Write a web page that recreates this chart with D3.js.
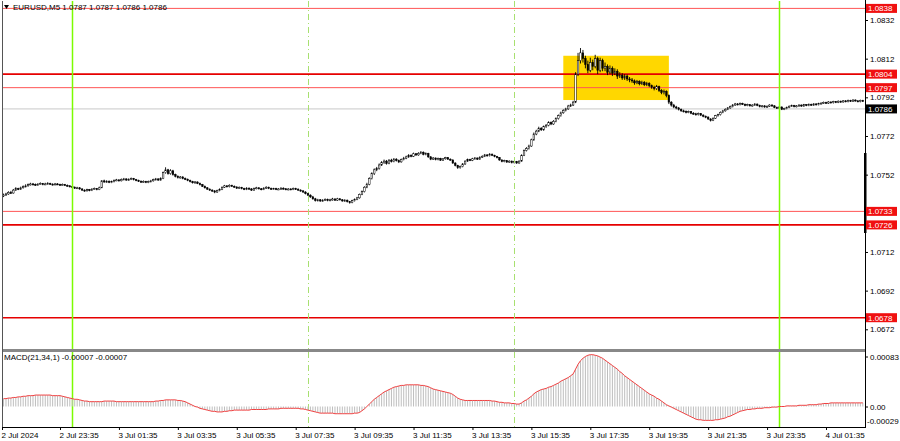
<!DOCTYPE html>
<html><head><meta charset="utf-8">
<script src="https://cdn.jsdelivr.net/npm/d3@7"></script>
<style>
body{margin:0;background:#fff}
svg{display:block}
text{font-family:"Liberation Sans",Arial,sans-serif;font-size:8px;fill:#000}
</style>
</head><body>
<svg id="c" width="900" height="441"></svg>
<script>
// ---------------- DATA ----------------
const symbol = "EURUSD,M5";
const headerQuote = ["1.0787", "1.0787", "1.0786", "1.0786"];
const macdTitle = "MACD(21,34,1) -0.00007 -0.00007";
const firstBarTime = "2024-07-02T21:40";
const barMinutes = 5;
const firstOpen = 1.07410;

const closes = [
1.07415,1.07420,1.07428,1.07425,1.07440,1.07448,1.07445,1.07452,1.07458,1.07462,
1.07468,1.07472,1.07470,1.07466,1.07471,1.07474,1.07469,1.07472,1.07475,1.07471,
1.07468,1.07472,1.07470,1.07466,1.07469,1.07465,1.07462,1.07458,1.07455,1.07450,
1.07452,1.07446,1.07440,1.07436,1.07442,1.07438,1.07445,1.07448,1.07443,1.07452,
1.07488,1.07482,1.07486,1.07480,1.07484,1.07490,1.07493,1.07488,1.07495,1.07498,
1.07492,1.07496,1.07500,1.07494,1.07490,1.07486,1.07482,1.07485,1.07480,1.07484,
1.07488,1.07494,1.07498,1.07492,1.07500,1.07530,1.07545,1.07525,1.07540,1.07520,
1.07512,1.07505,1.07508,1.07500,1.07496,1.07490,1.07484,1.07478,1.07482,1.07475,
1.07468,1.07460,1.07452,1.07445,1.07440,1.07436,1.07430,1.07438,1.07444,1.07455,
1.07462,1.07458,1.07465,1.07460,1.07456,1.07450,1.07454,1.07448,1.07444,1.07450,
1.07446,1.07440,1.07448,1.07452,1.07447,1.07443,1.07450,1.07455,1.07449,1.07445,
1.07448,1.07444,1.07446,1.07450,1.07447,1.07443,1.07446,1.07444,1.07448,1.07445,
1.07440,1.07436,1.07430,1.07422,1.07414,1.07405,1.07395,1.07386,1.07390,1.07384,
1.07388,1.07392,1.07386,1.07390,1.07394,1.07388,1.07395,1.07390,1.07384,1.07388,
1.07380,1.07376,1.07385,1.07392,1.07400,1.07418,1.07432,1.07455,1.07470,1.07500,
1.07525,1.07545,1.07552,1.07570,1.07582,1.07590,1.07578,1.07595,1.07588,1.07600,
1.07592,1.07586,1.07598,1.07605,1.07612,1.07620,1.07615,1.07628,1.07622,1.07630,
1.07636,1.07625,1.07630,1.07612,1.07600,1.07606,1.07598,1.07604,1.07595,1.07602,
1.07608,1.07600,1.07596,1.07580,1.07568,1.07556,1.07562,1.07575,1.07590,1.07598,
1.07594,1.07602,1.07606,1.07600,1.07610,1.07615,1.07622,1.07618,1.07626,1.07620,
1.07614,1.07608,1.07596,1.07588,1.07592,1.07585,1.07590,1.07582,1.07588,1.07580,
1.07590,1.07620,1.07645,1.07655,1.07668,1.07700,1.07730,1.07745,1.07760,1.07752,
1.07768,1.07775,1.07790,1.07782,1.07796,1.07810,1.07825,1.07840,1.07852,1.07860,
1.07875,1.07880,1.07895,1.08040,1.08110,1.08150,1.08120,1.08090,1.08060,1.08100,
1.08080,1.08120,1.08060,1.08110,1.08070,1.08080,1.08050,1.08070,1.08045,1.08055,
1.08030,1.08035,1.08020,1.08030,1.08015,1.08010,1.08005,1.07995,1.08002,1.07990,
1.07998,1.07985,1.07992,1.07980,1.07972,1.07965,1.07975,1.07955,1.07945,1.07950,
1.07930,1.07895,1.07880,1.07870,1.07865,1.07858,1.07850,1.07848,1.07842,1.07846,
1.07838,1.07835,1.07830,1.07836,1.07828,1.07822,1.07818,1.07808,1.07800,1.07812,
1.07825,1.07830,1.07842,1.07850,1.07858,1.07865,1.07872,1.07880,1.07886,1.07882,
1.07888,1.07884,1.07878,1.07882,1.07876,1.07880,1.07885,1.07878,1.07872,1.07876,
1.07870,1.07874,1.07880,1.07876,1.07868,1.07864,1.07870,1.07858,1.07862,1.07868,
1.07874,1.07878,1.07872,1.07876,1.07880,1.07875,1.07882,1.07878,1.07884,1.07880,
1.07886,1.07882,1.07888,1.07890,1.07894,1.07890,1.07896,1.07892,1.07898,1.07894,
1.07900,1.07896,1.07902,1.07898,1.07904,1.07900,1.07906,1.07902,1.07898,1.07904,
1.07900];

const highs = [
1.07422,1.07426,1.07434,1.07436,1.07446,1.07455,1.07452,1.07458,1.07464,1.07470,
1.07474,1.07478,1.07477,1.07474,1.07476,1.07480,1.07477,1.07478,1.07481,1.07478,
1.07475,1.07477,1.07476,1.07473,1.07474,1.07472,1.07469,1.07466,1.07462,1.07459,
1.07457,1.07456,1.07450,1.07444,1.07447,1.07446,1.07450,1.07453,1.07451,1.07458,
1.07492,1.07494,1.07491,1.07490,1.07489,1.07495,1.07498,1.07496,1.07500,1.07503,
1.07501,1.07501,1.07505,1.07503,1.07498,1.07494,1.07490,1.07490,1.07488,1.07489,
1.07493,1.07499,1.07503,1.07501,1.07506,1.07536,1.07558,1.07550,1.07548,1.07545,
1.07525,1.07516,1.07513,1.07512,1.07505,1.07500,1.07494,1.07488,1.07487,1.07485,
1.07479,1.07472,1.07464,1.07456,1.07449,1.07444,1.07440,1.07442,1.07449,1.07459,
1.07467,1.07466,1.07470,1.07468,1.07464,1.07460,1.07459,1.07457,1.07452,1.07455,
1.07454,1.07450,1.07453,1.07457,1.07455,1.07451,1.07455,1.07460,1.07458,1.07453,
1.07452,1.07452,1.07450,1.07455,1.07454,1.07451,1.07450,1.07450,1.07453,1.07452,
1.07449,1.07444,1.07440,1.07434,1.07426,1.07418,1.07410,1.07400,1.07395,1.07394,
1.07393,1.07397,1.07396,1.07395,1.07400,1.07398,1.07400,1.07399,1.07394,1.07393,
1.07391,1.07384,1.07390,1.07397,1.07405,1.07422,1.07438,1.07460,1.07478,1.07506,
1.07532,1.07552,1.07560,1.07578,1.07590,1.07598,1.07596,1.07600,1.07602,1.07606,
1.07605,1.07598,1.07603,1.07612,1.07618,1.07626,1.07625,1.07634,1.07632,1.07636,
1.07642,1.07640,1.07635,1.07633,1.07616,1.07611,1.07609,1.07608,1.07607,1.07606,
1.07612,1.07611,1.07604,1.07599,1.07584,1.07571,1.07567,1.07580,1.07594,1.07603,
1.07602,1.07607,1.07611,1.07609,1.07615,1.07620,1.07627,1.07626,1.07631,1.07629,
1.07623,1.07617,1.07611,1.07599,1.07597,1.07595,1.07594,1.07593,1.07592,1.07591,
1.07594,1.07625,1.07650,1.07662,1.07675,1.07706,1.07738,1.07752,1.07768,1.07766,
1.07774,1.07782,1.07796,1.07795,1.07802,1.07816,1.07831,1.07846,1.07858,1.07866,
1.07881,1.07887,1.07902,1.08050,1.08150,1.08175,1.08165,1.08135,1.08110,1.08125,
1.08115,1.08140,1.08130,1.08125,1.08120,1.08100,1.08090,1.08085,1.08080,1.08070,
1.08065,1.08050,1.08045,1.08040,1.08038,1.08025,1.08020,1.08012,1.08010,1.08008,
1.08006,1.08004,1.08000,1.07998,1.07986,1.07980,1.07984,1.07980,1.07962,1.07960,
1.07956,1.07935,1.07900,1.07886,1.07876,1.07870,1.07862,1.07856,1.07852,1.07851,
1.07849,1.07843,1.07840,1.07841,1.07839,1.07832,1.07826,1.07821,1.07812,1.07816,
1.07829,1.07835,1.07847,1.07855,1.07863,1.07870,1.07877,1.07885,1.07891,1.07890,
1.07893,1.07892,1.07888,1.07887,1.07885,1.07884,1.07890,1.07888,1.07882,1.07880,
1.07879,1.07878,1.07884,1.07884,1.07879,1.07872,1.07874,1.07873,1.07866,1.07872,
1.07878,1.07882,1.07881,1.07880,1.07884,1.07883,1.07886,1.07885,1.07888,1.07887,
1.07890,1.07889,1.07892,1.07894,1.07898,1.07897,1.07900,1.07899,1.07902,1.07901,
1.07904,1.07903,1.07906,1.07905,1.07908,1.07907,1.07910,1.07909,1.07905,1.07908,
1.07907];

const lows = [
1.07404,1.07410,1.07416,1.07420,1.07422,1.07436,1.07440,1.07441,1.07448,1.07454,
1.07458,1.07464,1.07465,1.07462,1.07463,1.07468,1.07465,1.07466,1.07469,1.07467,
1.07464,1.07465,1.07466,1.07462,1.07463,1.07461,1.07458,1.07454,1.07451,1.07446,
1.07446,1.07442,1.07436,1.07432,1.07433,1.07434,1.07435,1.07441,1.07439,1.07440,
1.07450,1.07478,1.07478,1.07476,1.07476,1.07480,1.07486,1.07484,1.07485,1.07491,
1.07488,1.07488,1.07492,1.07490,1.07486,1.07482,1.07478,1.07478,1.07476,1.07476,
1.07480,1.07484,1.07490,1.07488,1.07489,1.07497,1.07525,1.07520,1.07520,1.07515,
1.07506,1.07500,1.07500,1.07496,1.07492,1.07486,1.07480,1.07474,1.07474,1.07471,
1.07464,1.07456,1.07448,1.07441,1.07436,1.07431,1.07424,1.07426,1.07434,1.07440,
1.07451,1.07454,1.07454,1.07456,1.07452,1.07446,1.07446,1.07444,1.07440,1.07440,
1.07442,1.07436,1.07437,1.07444,1.07443,1.07439,1.07440,1.07446,1.07445,1.07441,
1.07441,1.07440,1.07440,1.07442,1.07443,1.07439,1.07439,1.07440,1.07440,1.07441,
1.07436,1.07432,1.07426,1.07418,1.07410,1.07400,1.07390,1.07381,1.07381,1.07379,
1.07380,1.07384,1.07382,1.07382,1.07386,1.07384,1.07384,1.07386,1.07380,1.07380,
1.07376,1.07370,1.07372,1.07381,1.07388,1.07396,1.07414,1.07428,1.07450,1.07465,
1.07495,1.07518,1.07538,1.07546,1.07565,1.07576,1.07572,1.07574,1.07583,1.07584,
1.07588,1.07580,1.07582,1.07594,1.07600,1.07607,1.07610,1.07611,1.07617,1.07618,
1.07626,1.07620,1.07620,1.07607,1.07595,1.07596,1.07594,1.07594,1.07591,1.07591,
1.07598,1.07596,1.07592,1.07576,1.07563,1.07550,1.07551,1.07558,1.07571,1.07586,
1.07590,1.07590,1.07598,1.07596,1.07597,1.07606,1.07611,1.07614,1.07614,1.07616,
1.07610,1.07604,1.07592,1.07584,1.07584,1.07581,1.07581,1.07578,1.07578,1.07576,
1.07577,1.07587,1.07616,1.07640,1.07650,1.07664,1.07695,1.07724,1.07740,1.07746,
1.07747,1.07762,1.07770,1.07776,1.07778,1.07791,1.07805,1.07820,1.07835,1.07847,
1.07855,1.07870,1.07875,1.07890,1.08030,1.08095,1.08100,1.08070,1.08045,1.08050,
1.08060,1.08070,1.08040,1.08050,1.08055,1.08055,1.08035,1.08040,1.08030,1.08035,
1.08015,1.08020,1.08010,1.08010,1.08005,1.07998,1.07995,1.07985,1.07988,1.07982,
1.07984,1.07978,1.07978,1.07972,1.07964,1.07956,1.07958,1.07948,1.07936,1.07935,
1.07920,1.07885,1.07872,1.07864,1.07858,1.07852,1.07845,1.07842,1.07837,1.07838,
1.07833,1.07830,1.07825,1.07826,1.07823,1.07817,1.07812,1.07803,1.07795,1.07797,
1.07808,1.07820,1.07826,1.07838,1.07846,1.07854,1.07861,1.07868,1.07876,1.07878,
1.07878,1.07880,1.07874,1.07874,1.07872,1.07872,1.07876,1.07874,1.07868,1.07868,
1.07866,1.07866,1.07870,1.07872,1.07864,1.07860,1.07860,1.07854,1.07854,1.07858,
1.07864,1.07870,1.07868,1.07868,1.07872,1.07871,1.07871,1.07874,1.07874,1.07876,
1.07876,1.07878,1.07878,1.07884,1.07886,1.07886,1.07886,1.07888,1.07888,1.07890,
1.07890,1.07892,1.07892,1.07894,1.07894,1.07896,1.07896,1.07898,1.07894,1.07894,
1.07896];

const macdValues = [
13e-5,13e-5,14e-5,14e-5,15e-5,15e-5,16e-5,16e-5,
17e-5,17e-5,18e-5,18e-5,18e-5,19e-5,19e-5,19e-5,19e-5,19e-5,19e-5,19e-5,18e-5,18e-5,18e-5,18e-5,17e-5,16e-5,15e-5,
14e-5,13e-5,12e-5,12e-5,11e-5,10e-5,
9e-5,9e-5,8e-5,8e-5,8e-5,8e-5,8e-5,8e-5,9e-5,9e-5,9e-5,9e-5,9e-5,8e-5,8e-5,8e-5,8e-5,8e-5,8e-5,8e-5,8e-5,8e-5,8e-5,8e-5,8e-5,8e-5,8e-5,8e-5,8e-5,9e-5,9e-5,10e-5,
10e-5,11e-5,11e-5,11e-5,11e-5,11e-5,10e-5,10e-5,
9e-5,8e-5,6e-5,4e-5,2e-5,0,-1e-5,-3e-5,
-4e-5,-5e-5,-6e-5,-7e-5,-8e-5,-8e-5,-9e-5,
-9e-5,-9e-5,-8e-5,-8e-5,-7e-5,-7e-5,-6e-5,
-6e-5,-6e-5,-6e-5,-6e-5,-6e-5,-6e-5,-5e-5,-5e-5,-5e-5,-5e-5,-5e-5,-5e-5,-5e-5,-4e-5,-4e-5,-4e-5,
-4e-5,-4e-5,-3e-5,-3e-5,-3e-5,-3e-5,-3e-5,-3e-5,-3e-5,-3e-5,-4e-5,-4e-5,
-5e-5,-6e-5,-7e-5,-8e-5,-9e-5,-10e-5,-11e-5,
-11e-5,-11e-5,-11e-5,-11e-5,-11e-5,-12e-5,-12e-5,-12e-5,-12e-5,-12e-5,-12e-5,-12e-5,-12e-5,-11e-5,-11e-5,-10e-5,
-7e-5,-4e-5,0,4e-5,8e-5,12e-5,15e-5,18e-5,21e-5,24e-5,
26e-5,28e-5,30e-5,32e-5,33e-5,34e-5,35e-5,
35e-5,36e-5,36e-5,36e-5,36e-5,36e-5,36e-5,35e-5,35e-5,
34e-5,33e-5,31e-5,29e-5,28e-5,27e-5,26e-5,25e-5,24e-5,23e-5,22e-5,
20e-5,17e-5,14e-5,12e-5,11e-5,
10e-5,10e-5,10e-5,10e-5,10e-5,10e-5,10e-5,10e-5,10e-5,10e-5,10e-5,9e-5,9e-5,
8e-5,7e-5,7e-5,6e-5,6e-5,6e-5,5e-5,5e-5,4e-5,4e-5,
6e-5,9e-5,11e-5,14e-5,17e-5,21e-5,24e-5,
26e-5,28e-5,29e-5,30e-5,32e-5,33e-5,35e-5,37e-5,39e-5,42e-5,
44e-5,46e-5,48e-5,51e-5,54e-5,62e-5,70e-5,
76e-5,80e-5,83e-5,85e-5,86e-5,86e-5,85e-5,84e-5,
82e-5,80e-5,77e-5,74e-5,71e-5,68e-5,65e-5,62e-5,
58e-5,55e-5,51e-5,48e-5,45e-5,42e-5,39e-5,36e-5,33e-5,30e-5,
27e-5,24e-5,21e-5,19e-5,17e-5,14e-5,12e-5,9e-5,6e-5,3e-5,1e-5,
-1e-5,-3e-5,-5e-5,-7e-5,-9e-5,-11e-5,-13e-5,-15e-5,-17e-5,-19e-5,-21e-5,
-22e-5,-22e-5,-23e-5,-23e-5,-23e-5,-23e-5,-23e-5,-22e-5,-22e-5,-21e-5,-20e-5,
-19e-5,-17e-5,-16e-5,-14e-5,-12e-5,-10e-5,-8e-5,-7e-5,
-6e-5,-5e-5,-5e-5,-4e-5,-4e-5,-3e-5,-3e-5,-3e-5,-2e-5,-2e-5,-2e-5,-1e-5,-1e-5,-1e-5,0,
0,0,1e-5,1e-5,1e-5,1e-5,1e-5,2e-5,2e-5,2e-5,2e-5,3e-5,3e-5,3e-5,3e-5,
4e-5,4e-5,5e-5,5e-5,5e-5,6e-5,6e-5,6e-5,6e-5,6e-5,6e-5,6e-5,6e-5,6e-5,6e-5,6e-5,6e-5,6e-5,6e-5];

const priceTicks = [1.0832, 1.0812, 1.0792, 1.0772, 1.0752, 1.0712, 1.0692, 1.0672];
const levelPrices = [1.0838, 1.0804, 1.0797, 1.0733, 1.0726, 1.0678];
const levelBold = [false, true, false, false, true, true];
const bidPrice = 1.0786;
const macdTicks = [0.00083, 0, -0.00029];

const timeTicks = ["2024-07-02T21:40","2024-07-02T23:35","2024-07-03T01:35","2024-07-03T03:35","2024-07-03T05:35",
  "2024-07-03T07:35","2024-07-03T09:35","2024-07-03T11:35","2024-07-03T13:35","2024-07-03T15:35",
  "2024-07-03T17:35","2024-07-03T19:35","2024-07-03T21:35","2024-07-03T23:35","2024-07-04T01:35"];
const timeTickLabels = ["2 Jul 2024","2 Jul 23:35","3 Jul 01:35","3 Jul 03:35","3 Jul 05:35",
  "3 Jul 07:35","3 Jul 09:35","3 Jul 11:35","3 Jul 13:35","3 Jul 15:35",
  "3 Jul 17:35","3 Jul 19:35","3 Jul 21:35","3 Jul 23:35","4 Jul 01:35"];
const daySeparators = ["2024-07-03T00:00", "2024-07-04T00:00"];
const sessionMarks = ["2024-07-03T08:00", "2024-07-03T15:00"];
const zoneTimes = ["2024-07-03T16:40", "2024-07-03T20:15"];
const zonePrices = [1.07906, 1.08135];

// ---------------- DRAW ----------------
const parse = d3.utcParse("%Y-%m-%dT%H:%M");
const t0 = parse(firstBarTime);
const bars = closes.map((c, i) => ({
  t: d3.utcMinute.offset(t0, i * barMinutes),
  o: i === 0 ? firstOpen : closes[i - 1], h: highs[i], l: lows[i], c: c, m: macdValues[i]
}));

const L = 2, R = 865, T = 1, MAINB = 349, MT = 352, B = 427;
const FONT = "Liberation Sans, Arial, sans-serif";
const svg = d3.select("#c");
svg.append("rect").attr("width", 900).attr("height", 441).attr("fill", "#fff");

const x = d3.scaleUtc().domain([parse("2024-07-02T23:35"), parse("2024-07-04T01:35")]).range([60, 826]);
const y = d3.scaleLinear().domain([1.0672, 1.0832]).range([329.3, 20]);
const ym = d3.scaleLinear().domain([0, 0.00083]).range([406.5, 356.5]);

const defs = svg.append("defs");
defs.append("clipPath").attr("id", "mainClip").append("rect").attr("x", L).attr("y", T).attr("width", R - L).attr("height", MAINB - T);
defs.append("clipPath").attr("id", "macdClip").append("rect").attr("x", L).attr("y", MT).attr("width", R - L).attr("height", B - MT);

const main = svg.append("g").attr("clip-path", "url(#mainClip)");
// zone rectangle
main.append("rect")
  .attr("x", x(parse(zoneTimes[0]))).attr("width", x(parse(zoneTimes[1])) - x(parse(zoneTimes[0])))
  .attr("y", y(zonePrices[1])).attr("height", y(zonePrices[0]) - y(zonePrices[1]))
  .attr("fill", "#FFD700");

// bid line
main.append("line").attr("x1", L).attr("x2", R).attr("y1", y(bidPrice)).attr("y2", y(bidPrice))
  .attr("stroke", "#C8C8C8").attr("stroke-width", 1);

// vertical separators
const vlines = svg.append("g");
daySeparators.forEach(s => {
  const xx = Math.round(x(parse(s))) + 0.5;
  vlines.append("line").attr("x1", xx).attr("x2", xx).attr("y1", T).attr("y2", B)
    .attr("stroke", "#7CFC00").attr("stroke-width", 1.5);
});
sessionMarks.forEach(s => {
  const xx = Math.round(x(parse(s))) + 0.5;
  vlines.append("line").attr("x1", xx).attr("x2", xx).attr("y1", T).attr("y2", B)
    .attr("stroke", "#A8E070").attr("stroke-width", 1).attr("stroke-dasharray", "6,3,1,3");
});

// horizontal levels
levelPrices.forEach((p, i) => {
  main.append("line").attr("x1", L).attr("x2", R).attr("y1", y(p)).attr("y2", y(p))
    .attr("stroke", levelBold[i] ? "#E60000" : "#FF5555").attr("stroke-width", levelBold[i] ? 1.6 : 1);
});

// candles
const cg = main.append("g");
cg.selectAll("line.w").data(bars).join("line").attr("class", "w")
  .attr("x1", d => x(d.t)).attr("x2", d => x(d.t))
  .attr("y1", d => y(d.h)).attr("y2", d => y(d.l))
  .attr("stroke", "#000").attr("stroke-width", 0.9);
cg.selectAll("rect.b").data(bars).join("rect").attr("class", "b")
  .attr("x", d => x(d.t) - 0.8).attr("width", 1.6)
  .attr("y", d => y(Math.max(d.o, d.c)))
  .attr("height", d => Math.max(1, Math.abs(y(d.o) - y(d.c))))
  .attr("fill", d => d.c >= d.o ? "#fff" : "#000")
  .attr("stroke", "#000").attr("stroke-width", 0.5);

// panel separator and frame
svg.append("rect").attr("x", L).attr("y", MAINB).attr("width", R - L).attr("height", MT - MAINB).attr("fill", "#888");
svg.append("line").attr("x1", L + 0.5).attr("x2", L + 0.5).attr("y1", T).attr("y2", B).attr("stroke", "#555");
svg.append("line").attr("x1", R + 0.5).attr("x2", R + 0.5).attr("y1", 0).attr("y2", B).attr("stroke", "#000");
svg.append("line").attr("x1", L).attr("x2", R + 1).attr("y1", B + 0.5).attr("y2", B + 0.5).attr("stroke", "#000");

// MACD panel
const mg = svg.append("g").attr("clip-path", "url(#macdClip)");
mg.selectAll("line.h").data(bars).join("line").attr("class", "h")
  .attr("x1", d => x(d.t)).attr("x2", d => x(d.t))
  .attr("y1", ym(0)).attr("y2", d => ym(d.m))
  .attr("stroke", "#BEBEBE").attr("stroke-width", 1);
mg.append("path").datum(bars)
  .attr("d", d3.line().x(d => x(d.t)).y(d => ym(d.m)))
  .attr("fill", "none").attr("stroke", "#F04040").attr("stroke-width", 1);
svg.append("text").attr("x", 4).attr("y", 360).text(macdTitle);

// price axis
const ya = svg.append("g").attr("transform", `translate(${R},0)`)
  .call(d3.axisRight(y).tickValues(priceTicks).tickSize(3).tickPadding(2).tickFormat(d3.format(".4f")));
ya.select(".domain").remove();
ya.selectAll("text").attr("font-size", 8).attr("font-family", FONT);

// thick marker on price scale
svg.append("rect").attr("x", R - 1).attr("width", 2.5).attr("y", 153).attr("height", 80).attr("fill", "#000");

// level labels
const lab = svg.append("g");
levelPrices.forEach(p => {
  lab.append("rect").attr("x", R + 1).attr("y", y(p) - 4.5).attr("width", 31).attr("height", 9).attr("fill", "#F01010");
  lab.append("text").attr("x", R + 3).attr("y", y(p) + 3).style("fill", "#fff").text(d3.format(".4f")(p));
});
lab.append("rect").attr("x", R + 1).attr("y", y(bidPrice) - 4.5).attr("width", 31).attr("height", 9).attr("fill", "#000");
lab.append("text").attr("x", R + 3).attr("y", y(bidPrice) + 3).style("fill", "#fff").text(d3.format(".4f")(bidPrice));

// MACD axis
const mfmt = d => d === 0 ? "0.00" : (d < 0 ? "-" : "") + Math.abs(d).toFixed(5);
const ma = svg.append("g").attr("transform", `translate(${R},0)`)
  .call(d3.axisRight(ym).tickValues(macdTicks).tickSize(3).tickPadding(2).tickFormat(mfmt));
ma.select(".domain").remove();
ma.selectAll("text").attr("font-size", 8).attr("font-family", FONT);
const negTick = ma.selectAll(".tick").filter(d => d < 0);
negTick.attr("transform", "translate(0,421)");
negTick.select("line").remove();
negTick.select("text").attr("x", 2).attr("font-size", 7.5);

// time axis
const tickDates = timeTicks.map(parse);
const xa = svg.append("g").attr("transform", `translate(0,${B})`)
  .call(d3.axisBottom(x).tickValues(tickDates).tickSize(3).tickPadding(2)
    .tickFormat((d, i) => timeTickLabels[i]));
xa.select(".domain").remove();
xa.selectAll("text").attr("text-anchor", "start").attr("dx", -1).attr("font-size", 8).attr("font-family", FONT);
xa.selectAll(".tick").filter((d, i) => i === 0).attr("transform", "translate(2.5,0)");

// header
svg.append("path").attr("d", "M4,5 L9,5 L6.5,9 Z").attr("fill", "#000");
svg.append("text").attr("x", 13).attr("y", 10).text(symbol + "  " + headerQuote.join(" "));
</script>
</body></html>
